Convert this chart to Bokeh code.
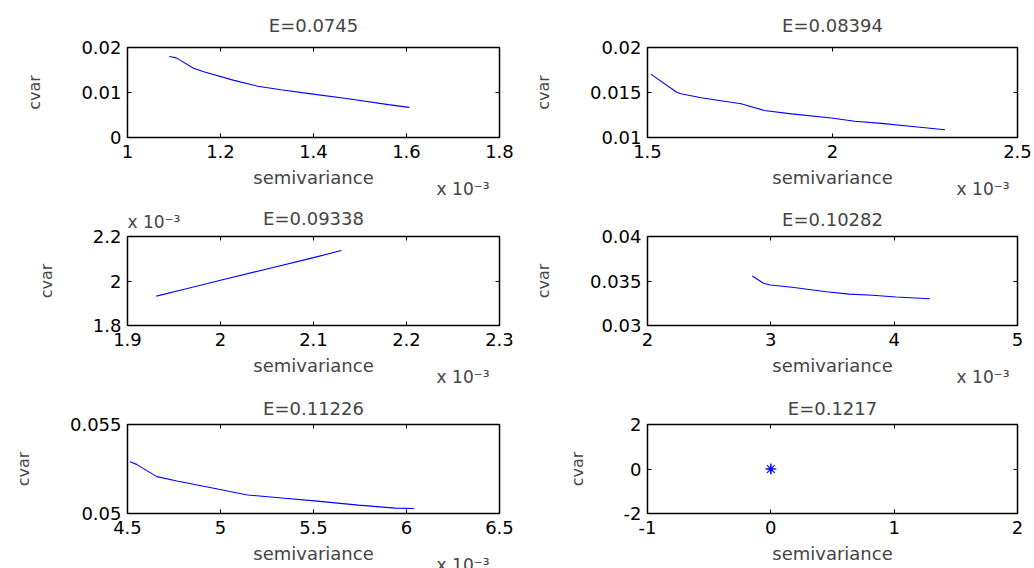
from bokeh.plotting import figure
from bokeh.models import Range1d, FixedTicker, LinearAxis, Title
from bokeh.layouts import column, row
from bokeh.embed import file_html
from bokeh.resources import INLINE

# ---------------- data (semivariance in units of 1e-3 where shown "x 10^-3") ----------------
titles = ["E=0.0745", "E=0.08394", "E=0.09338", "E=0.10282", "E=0.11226", "E=0.1217"]

p1_x = [1.090, 1.105, 1.142, 1.164, 1.229, 1.280, 1.330, 1.395, 1.475, 1.561, 1.606]
p1_y = [0.0180, 0.0177, 0.0154, 0.0146, 0.0127, 0.0114, 0.0106, 0.0097, 0.0086, 0.0073, 0.0067]

p2_x = [1.509, 1.578, 1.590, 1.645, 1.753, 1.816, 1.889, 1.997, 2.060, 2.132, 2.223, 2.304]
p2_y = [0.01704, 0.01506, 0.01487, 0.01442, 0.01375, 0.01300, 0.01262, 0.01217, 0.01180, 0.01157, 0.01120, 0.01086]

p3_x = [1.931, 1.960, 2.000, 2.050, 2.100, 2.130]
p3_y = [1.932, 1.962, 2.003, 2.054, 2.105, 2.137]

p4_x = [2.850, 2.940, 2.995, 3.172, 3.450, 3.635, 3.826, 4.016, 4.290]
p4_y = [0.03556, 0.03474, 0.03455, 0.03429, 0.03380, 0.03353, 0.03340, 0.03320, 0.03300]

p5_x = [4.513, 4.549, 4.657, 4.766, 4.991, 5.145, 5.344, 5.506, 5.741, 5.940, 6.040]
p5_y = [0.05291, 0.05276, 0.05207, 0.05183, 0.05136, 0.05104, 0.05086, 0.05071, 0.05047, 0.05030, 0.05028]

p6_x = [0.0]
p6_y = [0.0]

p1_xticks = [1, 1.2, 1.4, 1.6, 1.8]
p1_xlabels = ["1", "1.2", "1.4", "1.6", "1.8"]
p1_yticks = [0, 0.01, 0.02]
p1_ylabels = ["0", "0.01", "0.02"]

p2_xticks = [1.5, 2, 2.5]
p2_xlabels = ["1.5", "2", "2.5"]
p2_yticks = [0.01, 0.015, 0.02]
p2_ylabels = ["0.01", "0.015", "0.02"]

p3_xticks = [1.9, 2.0, 2.1, 2.2, 2.3]
p3_xlabels = ["1.9", "2", "2.1", "2.2", "2.3"]
p3_yticks = [1.8, 2.0, 2.2]
p3_ylabels = ["1.8", "2", "2.2"]

p4_xticks = [2, 3, 4, 5]
p4_xlabels = ["2", "3", "4", "5"]
p4_yticks = [0.03, 0.035, 0.04]
p4_ylabels = ["0.03", "0.035", "0.04"]

p5_xticks = [4.5, 5, 5.5, 6, 6.5]
p5_xlabels = ["4.5", "5", "5.5", "6", "6.5"]
p5_yticks = [0.05, 0.055]
p5_ylabels = ["0.05", "0.055"]

p6_xticks = [-1, 0, 1, 2]
p6_xlabels = ["-1", "0", "1", "2"]
p6_yticks = [-2, 0, 2]
p6_ylabels = ["-2", "0", "2"]

x_label = "semivariance"
y_label = "cvar"
exp_text = "x 10\u207b\u00b3"

FONT = "DejaVu Sans"
FS = "18px"
BLUE = "#0000ff"

# ---------------- layout (page origin at 0,0) ----------------
col_w = [517, 517]
left_border = [127, 130]
frame_w = [372, 370]
row_h = [199, 190, 179]
top_border = [47, 36, 34]
title_standoff = [24, 14, 12]
exp_offset = [10, 8]


def style_axis(ax, ticks, labels, show_labels=True):
    ax.ticker = FixedTicker(ticks=ticks)
    if show_labels:
        ax.major_label_overrides = {t: l for t, l in zip(ticks, labels)}
        ax.major_label_text_font_size = FS
        ax.major_label_standoff = 7
    else:
        ax.major_label_overrides = {t: "" for t in ticks}
        ax.major_label_text_font_size = "1px"
        ax.major_label_standoff = 0
    ax.axis_line_color = None
    ax.major_tick_in = 4
    ax.major_tick_out = 0
    ax.minor_tick_in = 0
    ax.minor_tick_out = 0
    ax.major_tick_line_color = "black"
    ax.major_label_text_font = FONT
    ax.major_label_text_color = "black"


def panel(idx, xs, ys, xr, yr, xt, xl, yt, yl, x_exp, y_exp, marker=False):
    c = idx % 2
    r = idx // 2
    frame_h = 90
    bottom = row_h[r] - top_border[r] - frame_h
    p = figure(width=col_w[c], height=row_h[r], output_backend="svg", toolbar_location=None,
               x_range=Range1d(*xr), y_range=Range1d(*yr),
               min_border_left=left_border[c], min_border_right=col_w[c] - left_border[c] - frame_w[c],
               min_border_top=top_border[r], min_border_bottom=bottom,
               x_axis_label=x_label, y_axis_label=y_label)
    p.grid.visible = False
    p.background_fill_color = "white"
    p.border_fill_color = "white"
    p.outline_line_color = "black"
    p.outline_line_width = 1.5
    p.title.text = titles[idx]
    p.title.align = "center"
    p.title.text_font = FONT
    p.title.text_font_size = FS
    p.title.text_font_style = "normal"
    p.title.standoff = -48 if y_exp else title_standoff[r]

    style_axis(p.xaxis[0], xt, xl)
    style_axis(p.yaxis[0], yt, yl)
    p.yaxis[0].major_label_standoff = 6
    p.xaxis[0].axis_label_text_font = FONT
    p.xaxis[0].axis_label_text_font_size = FS
    p.xaxis[0].axis_label_text_font_style = "normal"
    p.xaxis[0].axis_label_standoff = 6
    p.yaxis[0].axis_label_text_font = FONT
    p.yaxis[0].axis_label_text_font_size = "16px"
    p.yaxis[0].axis_label_text_font_style = "normal"
    p.yaxis[0].axis_label_standoff = 34

    top_ax = LinearAxis()
    style_axis(top_ax, xt, xl, show_labels=False)
    p.add_layout(top_ax, "above")
    right_ax = LinearAxis()
    style_axis(right_ax, yt, yl, show_labels=False)
    p.add_layout(right_ax, "right")

    if marker:
        p.scatter(xs, ys, marker="asterisk", size=11, line_color=BLUE, line_width=1.2)
        p.scatter(xs, ys, marker="cross", size=9, line_color=BLUE, line_width=1.2)
    else:
        p.line(xs, ys, line_color=BLUE, line_width=1.1)

    if x_exp:
        t = Title(text=exp_text, align="right", offset=exp_offset[c], standoff=-24,
                  vertical_align="top",
                  text_font=FONT, text_font_size="17px", text_font_style="normal")
        p.add_layout(t, "below")
    if y_exp:
        t = Title(text=exp_text, align="left", standoff=10,
                  text_font=FONT, text_font_size="17px", text_font_style="normal")
        p.add_layout(t, "above")
    return p


f1 = panel(0, p1_x, p1_y, (1, 1.8), (0, 0.02), p1_xticks, p1_xlabels, p1_yticks, p1_ylabels, True, False)
f2 = panel(1, p2_x, p2_y, (1.5, 2.5), (0.01, 0.02), p2_xticks, p2_xlabels, p2_yticks, p2_ylabels, True, False)
f3 = panel(2, p3_x, p3_y, (1.9, 2.3), (1.8, 2.2), p3_xticks, p3_xlabels, p3_yticks, p3_ylabels, True, True)
f4 = panel(3, p4_x, p4_y, (2, 5), (0.03, 0.04), p4_xticks, p4_xlabels, p4_yticks, p4_ylabels, True, False)
f5 = panel(4, p5_x, p5_y, (4.5, 6.5), (0.05, 0.055), p5_xticks, p5_xlabels, p5_yticks, p5_ylabels, True, False)
f6 = panel(5, p6_x, p6_y, (-1, 2), (-2, 2), p6_xticks, p6_xlabels, p6_yticks, p6_ylabels, False, False, marker=True)

layout = column(row(f1, f2, spacing=0), row(f3, f4, spacing=0), row(f5, f6, spacing=0), spacing=0)

open("out.html", "w").write(file_html(layout, INLINE))
